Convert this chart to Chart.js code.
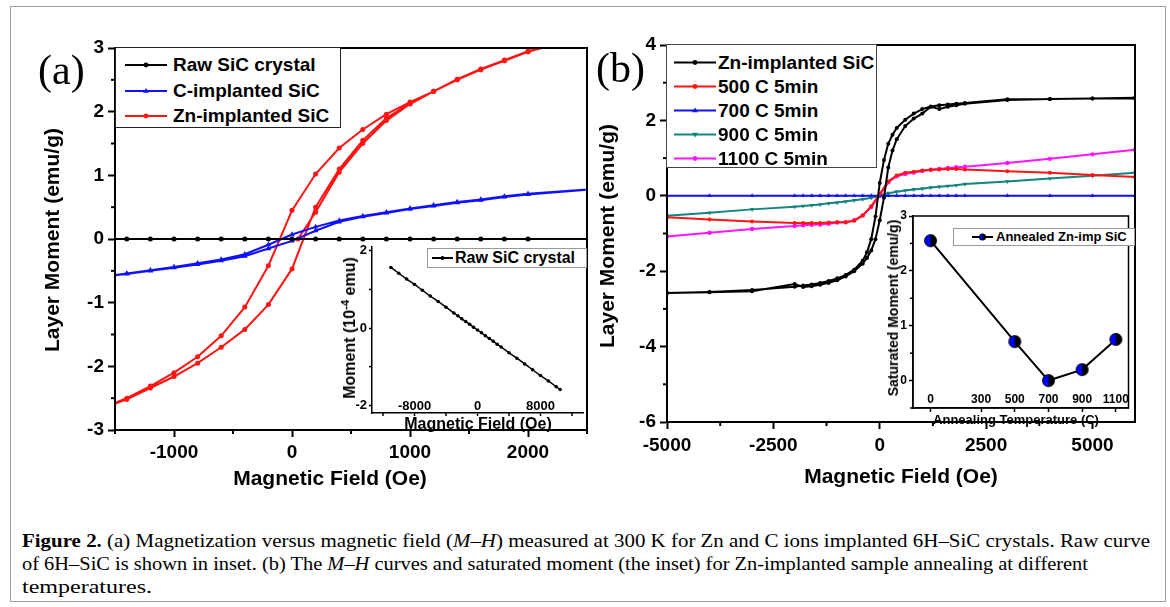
<!DOCTYPE html>
<html>
<head>
<meta charset="utf-8">
<script src="https://cdn.jsdelivr.net/npm/chart.js@4.4.1/dist/chart.umd.min.js"></script>
<style>
  body { margin: 0; background: #fff; }
  #fig { position: relative; width: 1170px; height: 607px; overflow: hidden; font-family: 'Liberation Sans', Arial, sans-serif; background: #fff; }
  canvas { position: absolute; }
  .frame { position: absolute; left: 10px; top: 6px; width: 1154px; height: 594px; border: 1px solid #a0a0a0; }
  .t { position: absolute; font-weight: bold; white-space: nowrap; color: #000; transform: translate(-50%, -50%); }
  .t.v { transform: translate(-50%, -50%) rotate(-90deg); }
  .t sup { font-size: 0.7em; vertical-align: 0.55em; line-height: 0; }
  .panel { position: absolute; font-family: 'Liberation Serif', 'Times New Roman', serif; font-size: 42px; line-height: 1; }
  .leg { position: absolute; background: #fff; box-sizing: border-box; }
  .row { position: absolute; display: flex; align-items: center; font-weight: bold; white-space: nowrap; color: #000; }
  #cap { position: absolute; left: 22px; top: 530px; font-family: 'Liberation Serif', 'Times New Roman', serif; font-size: 18px; line-height: 23px; color: #000; }
  #cap div { white-space: nowrap; width: max-content; transform-origin: 0 0; }
</style>
</head>
<body>
<div id="fig">
  <div class="frame"></div>
  <canvas id="cA" width="600" height="500" style="left:0;top:0"></canvas>
  <canvas id="cB" width="560" height="500" style="left:600px;top:0"></canvas>
  <canvas id="cAi" width="267" height="200" style="left:320px;top:230px"></canvas>
  <canvas id="cBi" width="265" height="220" style="left:870px;top:200px"></canvas>

  <div class="panel" style="left:38px;top:49px">(a)</div>
  <div class="panel" style="left:596px;top:47px">(b)</div>

  <div class="t v" style="left:52px;top:240px;font-size:21px">Layer Moment (emu/g)</div>
  <div class="t" style="left:330px;top:478px;font-size:21px">Magnetic Field (Oe)</div>
  <div class="t v" style="left:607px;top:236px;font-size:21px">Layer Moment (emu/g)</div>
  <div class="t" style="left:901px;top:476px;font-size:21px">Magnetic Field (Oe)</div>

  <div class="t v" style="left:350px;top:328px;font-size:16px">Moment (10<sup>-4</sup> emu)</div>
  <div class="t" style="left:478px;top:424px;font-size:16px">Magnetic Field (Oe)</div>
  <div class="t v" style="left:893px;top:308px;font-size:14px">Saturated Moment (emu/g)</div>
  <div class="t" style="left:1016px;top:419px;font-size:13px">Annealing Temperature (C)</div>

  <div id="cap">
    <div><b>Figure 2.</b> (a) Magnetization versus magnetic field (<i>M</i>–<i>H</i>) measured at 300 K for Zn and C ions implanted 6H–SiC crystals. Raw curve</div>
    <div>of 6H–SiC is shown in inset. (b) The <i>M</i>–<i>H</i> curves and saturated moment (the inset) for Zn-implanted sample annealing at different</div>
    <div>temperatures.</div>
  </div>
</div>

<script>
// ---- data: panel (a), field in Oe, moment in emu/g ----
const rawField = [-1600, -1400, -1200, -1000, -800, -600, -400, -200, 0, 200, 400, 600, 800, 1000, 1200, 1400, 1600, 1800, 2000, 2600];
const rawMoment = [0, 0, 0, 0, 0, 0, 0, 0, 0, 0, 0, 0, 0, 0, 0, 0, 0, 0, 0, 0];

const cDownField = [2600, 2000, 1800, 1600, 1400, 1200, 1000, 800, 600, 400, 200, 0, -200, -400, -600, -800, -1000, -1200, -1400, -1600];
const cDownMoment = [0.79, 0.71, 0.67, 0.62, 0.58, 0.53, 0.48, 0.42, 0.36, 0.29, 0.19, 0.07, -0.09, -0.24, -0.32, -0.38, -0.44, -0.49, -0.54, -0.59];
const cUpField = [-1600, -1400, -1200, -1000, -800, -600, -400, -200, 0, 200, 400, 600, 800, 1000, 1200, 1400, 1600, 1800, 2000, 2600];
const cUpMoment = [-0.59, -0.55, -0.50, -0.45, -0.40, -0.34, -0.27, -0.15, -0.03, 0.13, 0.27, 0.35, 0.41, 0.47, 0.52, 0.57, 0.61, 0.66, 0.70, 0.79];

const znVirginField = [50, 200, 400, 600, 800, 1000, 1200, 1400, 1600, 1800, 2000, 2200, 2600];
const znVirginMoment = [0.0, 0.42, 1.05, 1.50, 1.86, 2.12, 2.32, 2.50, 2.66, 2.80, 2.94, 3.04, 3.25];
const znDownField = [2600, 2200, 2000, 1800, 1600, 1400, 1200, 1000, 800, 600, 400, 200, 0, -200, -400, -600, -800, -1000, -1200, -1400, -1600];
const znDownMoment = [3.25, 3.05, 2.95, 2.81, 2.67, 2.51, 2.32, 2.15, 1.96, 1.72, 1.43, 1.02, 0.45, -0.42, -1.07, -1.52, -1.85, -2.10, -2.31, -2.50, -2.65];
const znUpField = [-1600, -1400, -1200, -1000, -800, -600, -400, -200, 0, 200, 400, 600, 800, 1000, 1200, 1400, 1600, 1800, 2000, 2200, 2600];
const znUpMoment = [-2.65, -2.52, -2.34, -2.16, -1.95, -1.70, -1.42, -1.03, -0.47, 0.50, 1.10, 1.55, 1.90, 2.13, 2.32, 2.50, 2.66, 2.80, 2.94, 3.04, 3.25];

// inset (a): raw crystal, moment in 1e-4 emu
const rawInsetField = [-11000, -10000, -9000, -8000, -7000, -6000, -5000, -4000, -3000, -2500, -2000, -1500, -1000, -500, 0, 500, 1000, 1500, 2000, 2500, 3000, 4000, 5000, 6000, 7000, 8000, 9000, 10000, 10500];
const rawInsetMoment = [1.57, 1.42, 1.27, 1.13, 0.98, 0.83, 0.69, 0.54, 0.39, 0.32, 0.24, 0.17, 0.10, 0.02, -0.05, -0.12, -0.20, -0.27, -0.34, -0.42, -0.49, -0.64, -0.78, -0.93, -1.08, -1.23, -1.37, -1.52, -1.59];

// ---- data: panel (b) ----
const znbDownField = [6000, 5000, 4000, 3000, 2000, 1800, 1600, 1400, 1200, 1000, 800, 600, 400, 300, 200, 100, 0, -100, -200, -300, -400, -600, -800, -1000, -1200, -1400, -1600, -1800, -2000, -3000, -4000, -5000];
const znbDownMoment = [2.58, 2.58, 2.57, 2.56, 2.46, 2.44, 2.42, 2.40, 2.37, 2.30, 2.18, 2.02, 1.80, 1.62, 1.38, 0.95, 0.34, -0.55, -1.15, -1.50, -1.72, -1.96, -2.10, -2.19, -2.26, -2.31, -2.35, -2.38, -2.41, -2.50, -2.55, -2.58];
const znbUpField = [-5000, -4000, -3000, -2000, -1800, -1600, -1400, -1200, -1000, -800, -600, -400, -300, -200, -100, 0, 100, 200, 300, 400, 600, 800, 1000, 1200, 1400, 1600, 1800, 2000, 3000, 4000, 5000, 6000];
const znbUpMoment = [-2.58, -2.56, -2.53, -2.34, -2.42, -2.40, -2.36, -2.31, -2.24, -2.14, -2.00, -1.80, -1.65, -1.45, -1.15, -0.65, -0.05, 0.75, 1.20, 1.50, 1.85, 2.05, 2.18, 2.36, 2.30, 2.36, 2.40, 2.44, 2.54, 2.57, 2.58, 2.60];

const annealField = [-5000, -4000, -3000, -2000, -1800, -1600, -1400, -1200, -1000, -800, -600, -400, -200, 0, 200, 400, 600, 800, 1000, 1200, 1400, 1600, 1800, 2000, 3000, 4000, 5000, 6000];
const m500 = [-0.57, -0.63, -0.68, -0.72, -0.72, -0.72, -0.72, -0.71, -0.70, -0.70, -0.66, -0.52, -0.28, 0.05, 0.38, 0.54, 0.61, 0.64, 0.67, 0.69, 0.70, 0.71, 0.71, 0.70, 0.65, 0.61, 0.55, 0.50];
const m700 = [0, 0, 0, 0, 0, 0, 0, 0, 0, 0, 0, 0, 0, 0, 0, 0, 0, 0, 0, 0, 0, 0, 0, 0, 0, 0, 0, 0];
const m900 = [-0.53, -0.45, -0.36, -0.29, -0.27, -0.25, -0.23, -0.20, -0.18, -0.15, -0.12, -0.09, -0.05, 0.00, 0.07, 0.11, 0.14, 0.17, 0.19, 0.22, 0.24, 0.26, 0.28, 0.31, 0.38, 0.46, 0.53, 0.61];
const m1100 = [-1.08, -0.98, -0.88, -0.80, -0.78, -0.77, -0.76, -0.74, -0.71, -0.70, -0.65, -0.52, -0.30, 0.00, 0.36, 0.52, 0.58, 0.62, 0.66, 0.69, 0.71, 0.74, 0.76, 0.77, 0.87, 0.98, 1.10, 1.22];

// inset (b): saturated moment vs annealing temperature
const annealTemp = [0, 500, 700, 900, 1100];
const satMoment = [2.55, 0.71, 0.0, 0.20, 0.75];

// ---- styling ----
const SANS = "'Liberation Sans', Arial, sans-serif";
const BLACK = '#000000', BLUE = '#1010ff', RED = '#ff1414', TEAL = '#12857c', MAGENTA = '#ff14ff';
const fig = document.getElementById('fig');

function pts(xs, ys) { return xs.map((x, i) => ({ x: x, y: ys[i] })); }

function series(label, data, color, style, r, extra) {
  return Object.assign({
    label: label, data: data, borderColor: color, backgroundColor: color, borderWidth: 2,
    pointStyle: style, pointRadius: r, pointBorderWidth: 0, tension: 0, fill: false
  }, extra || {});
}

function axis(o) {
  return {
    type: 'linear', min: o.min, max: o.max,
    afterBuildTicks: s => { s.ticks = o.ticks.map(v => ({ value: v })); },
    afterFit: s => { if (o.w != null) s.width = o.w; if (o.h != null) s.height = o.h; },
    ticks: { color: '#000', font: { family: SANS, size: o.font, weight: 'bold' }, padding: o.pad, mirror: !!o.mirror,
             maxRotation: 0, autoSkip: false, callback: v => String(v) },
    grid: { display: true, drawOnChartArea: false, drawTicks: true, tickLength: o.tl, tickWidth: o.lw, tickColor: '#000' },
    border: { display: true, color: '#000', width: o.lw }
  };
}

// box around plot + short minor ticks
const framePlugin = {
  id: 'frame',
  afterDraw(chart, args, o) {
    const ctx = chart.ctx, a = chart.chartArea;
    ctx.save();
    ctx.strokeStyle = '#000';
    ctx.lineWidth = o.lw;
    if (o.box) ctx.strokeRect(a.left, a.top, a.right - a.left, a.bottom - a.top);
    for (const id of ['x', 'y']) {
      const step = o.minor[id];
      if (!step) continue;
      const s = chart.scales[id];
      const majors = s.ticks.map(t => t.value);
      for (let k = Math.ceil(s.min / step); k * step <= s.max; k++) {
        const v = k * step;
        if (majors.some(m => Math.abs(m - v) < 1e-9)) continue;
        const p = s.getPixelForValue(v);
        ctx.beginPath();
        if (id === 'x') { ctx.moveTo(p, a.bottom); ctx.lineTo(p, a.bottom + o.len); }
        else { ctx.moveTo(a.left, p); ctx.lineTo(a.left - o.len, p); }
        ctx.stroke();
      }
    }
    ctx.restore();
  }
};

function makeChart(id, datasets, padding, xs, ys, frame) {
  return new Chart(document.getElementById(id), {
    type: 'line',
    data: { datasets: datasets },
    options: {
      responsive: false, animation: false, devicePixelRatio: 1, events: [],
      layout: { padding: padding },
      plugins: { legend: { display: false }, tooltip: { enabled: false }, frame: frame },
      scales: { x: xs, y: ys }
    },
    plugins: [framePlugin]
  });
}

// ---- panel (a) ----
const dsA = [
  series('Raw SiC crystal', pts(rawField, rawMoment), BLACK, 'circle', 2.5),
  series('C-implanted SiC', pts(cDownField.concat(cUpField), cDownMoment.concat(cUpMoment)), BLUE, 'triangle', 3.2),
  series('Zn-implanted SiC', pts(znVirginField.concat(znDownField, znUpField), znVirginMoment.concat(znDownMoment, znUpMoment)), RED, 'circle', 2.5)
];
makeChart('cA', dsA, { left: 0, top: 48, right: 13, bottom: 0 },
  axis({ min: -1500, max: 2500, ticks: [-1000, 0, 1000, 2000], h: 70, font: 19, pad: 4, tl: 7, lw: 2 }),
  axis({ min: -3, max: 3, ticks: [-3, -2, -1, 0, 1, 2, 3], w: 115, font: 19, pad: 4, tl: 7, lw: 2 }),
  { box: true, lw: 2, len: 4, minor: { x: 500, y: 0.5 } });

const dsAi = [
  series('Raw SiC crystal', pts(rawInsetField, rawInsetMoment), BLACK, 'circle', 1.8, { borderWidth: 1.5 })
];
makeChart('cAi', dsAi, { left: 0, top: 17, right: 0, bottom: 0 },
  axis({ min: -13400, max: 13400, ticks: [-8000, 0, 8000], h: 17, font: 13, pad: -1, mirror: true, tl: 3, lw: 1.5 }),
  axis({ min: -2.2, max: 2.1, ticks: [-2, 0, 2], w: 52, font: 13, pad: 2, tl: 3, lw: 1.5 }),
  { box: false, lw: 1.5, len: 3, minor: { x: 4000, y: 1 } });

// ---- panel (b) ----
const dsB = [
  series('Zn-implanted SiC', pts(znbDownField.concat(znbUpField), znbDownMoment.concat(znbUpMoment)), BLACK, 'circle', 2),
  series('500 C 5min', pts(annealField, m500), RED, 'circle', 2),
  series('700 C 5min', pts(annealField, m700), BLUE, 'triangle', 2.6),
  series('900 C 5min', pts(annealField, m900), TEAL, 'triangle', 2.6, { pointRotation: 180 }),
  series('1100 C 5min', pts(annealField, m1100), MAGENTA, 'circle', 2.2)
];
makeChart('cB', dsB, { left: 0, top: 45, right: 25, bottom: 0 },
  axis({ min: -5000, max: 6000, ticks: [-5000, -2500, 0, 2500, 5000], h: 78, font: 19, pad: 5, tl: 7, lw: 2 }),
  axis({ min: -6, max: 4, ticks: [-6, -4, -2, 0, 2, 4], w: 67, font: 19, pad: 4, tl: 7, lw: 2 }),
  { box: true, lw: 2, len: 4, minor: { x: 1250, y: 1 } });

function halfDot(r) {
  const c = document.createElement('canvas');
  const s = 2 * r + 2;
  c.width = c.height = s;
  const g = c.getContext('2d');
  g.fillStyle = '#000';
  g.beginPath(); g.arc(s / 2, s / 2, r, 0, 2 * Math.PI); g.fill();
  g.fillStyle = '#0000ff';
  g.beginPath(); g.arc(s / 2, s / 2, r - 1, Math.PI / 2, Math.PI * 1.5); g.fill();
  return c;
}

const dsBi = [
  series('Annealed Zn-imp SiC', pts(annealTemp, satMoment), BLACK, halfDot(6.5), 6.5, { borderWidth: 2 })
];
makeChart('cBi', dsBi, { left: 0, top: 16, right: 0, bottom: 0 },
  axis({ min: -104, max: 1175, ticks: [0, 300, 500, 700, 900, 1100], h: 12, font: 12, pad: 1, mirror: true, tl: 4, lw: 1.5 }),
  axis({ min: -0.5, max: 3, ticks: [0, 1, 2, 3], w: 43, font: 12, pad: 2, tl: 4, lw: 1.5 }),
  { box: true, lw: 1.5, len: 3, minor: { x: 0, y: 0.5 } });

// ---- legends built from the datasets ----
function sampleSVG(ds, w, h, r) {
  const c = ds.borderColor, cy = h / 2, cx = w / 2;
  let m;
  if (ds.pointStyle instanceof HTMLCanvasElement) {
    m = `<circle cx="${cx}" cy="${cy}" r="${r}" fill="#000"/>` +
        `<path d="M${cx} ${cy - r + 0.8} A${r - 0.8} ${r - 0.8} 0 0 0 ${cx} ${cy + r - 0.8} Z" fill="#0000ff"/>`;
  } else if (ds.pointStyle === 'triangle') {
    const up = ds.pointRotation !== 180;
    m = up ? `<polygon points="${cx - r},${cy + r * 0.6} ${cx + r},${cy + r * 0.6} ${cx},${cy - r}" fill="${c}"/>`
           : `<polygon points="${cx - r},${cy - r * 0.6} ${cx + r},${cy - r * 0.6} ${cx},${cy + r}" fill="${c}"/>`;
  } else {
    m = `<circle cx="${cx}" cy="${cy}" r="${r * 0.8}" fill="${c}"/>`;
  }
  return `<svg width="${w}" height="${h}" style="display:block;flex:none"><line x1="0" y1="${cy}" x2="${w}" y2="${cy}" stroke="${c}" stroke-width="2"/>${m}</svg>`;
}

function legend(datasets, o) {
  const el = document.createElement('div');
  el.className = 'leg';
  Object.assign(el.style, { left: o.x + 'px', top: o.y + 'px', width: o.w + 'px', height: o.h + 'px', border: o.border });
  datasets.forEach((ds, i) => {
    const row = document.createElement('div');
    row.className = 'row';
    Object.assign(row.style, {
      left: o.sx + 'px', top: (o.first + i * o.gap - o.rowH / 2) + 'px', height: o.rowH + 'px',
      lineHeight: o.rowH + 'px', fontSize: o.font + 'px'
    });
    row.innerHTML = sampleSVG(ds, o.sw, o.rowH, o.mr) + `<span style="margin-left:${o.tg}px">${ds.label}</span>`;
    el.appendChild(row);
  });
  fig.appendChild(el);
}

legend(dsA, { x: 115, y: 47, w: 226, h: 81, border: '1.5px solid #222', sx: 9, sw: 42, first: 17, gap: 25.5, rowH: 24, font: 19, tg: 6, mr: 3 });
legend(dsB, { x: 666, y: 44, w: 211, h: 124, border: '1.5px solid #444', sx: 7, sw: 42, first: 17, gap: 24, rowH: 23, font: 19, tg: 2, mr: 3 });
legend(dsAi, { x: 427, y: 248, w: 160, h: 20, border: '1px solid #999', sx: 4, sw: 21, first: 9, gap: 0, rowH: 18, font: 16, tg: 2, mr: 2.5 });
legend(dsBi, { x: 953, y: 228, w: 182, h: 18, border: '1px solid #999', sx: 18, sw: 21, first: 8, gap: 0, rowH: 16, font: 13, tg: 3, mr: 3.5 });

// ---- caption: stretch each line to the width it has in the reference ----
const capWidths = [1128, 1066, 130];
document.querySelectorAll('#cap div').forEach((d, i) => {
  d.style.transform = 'scaleX(' + (capWidths[i] / d.getBoundingClientRect().width) + ')';
});
</script>
</body>
</html>
